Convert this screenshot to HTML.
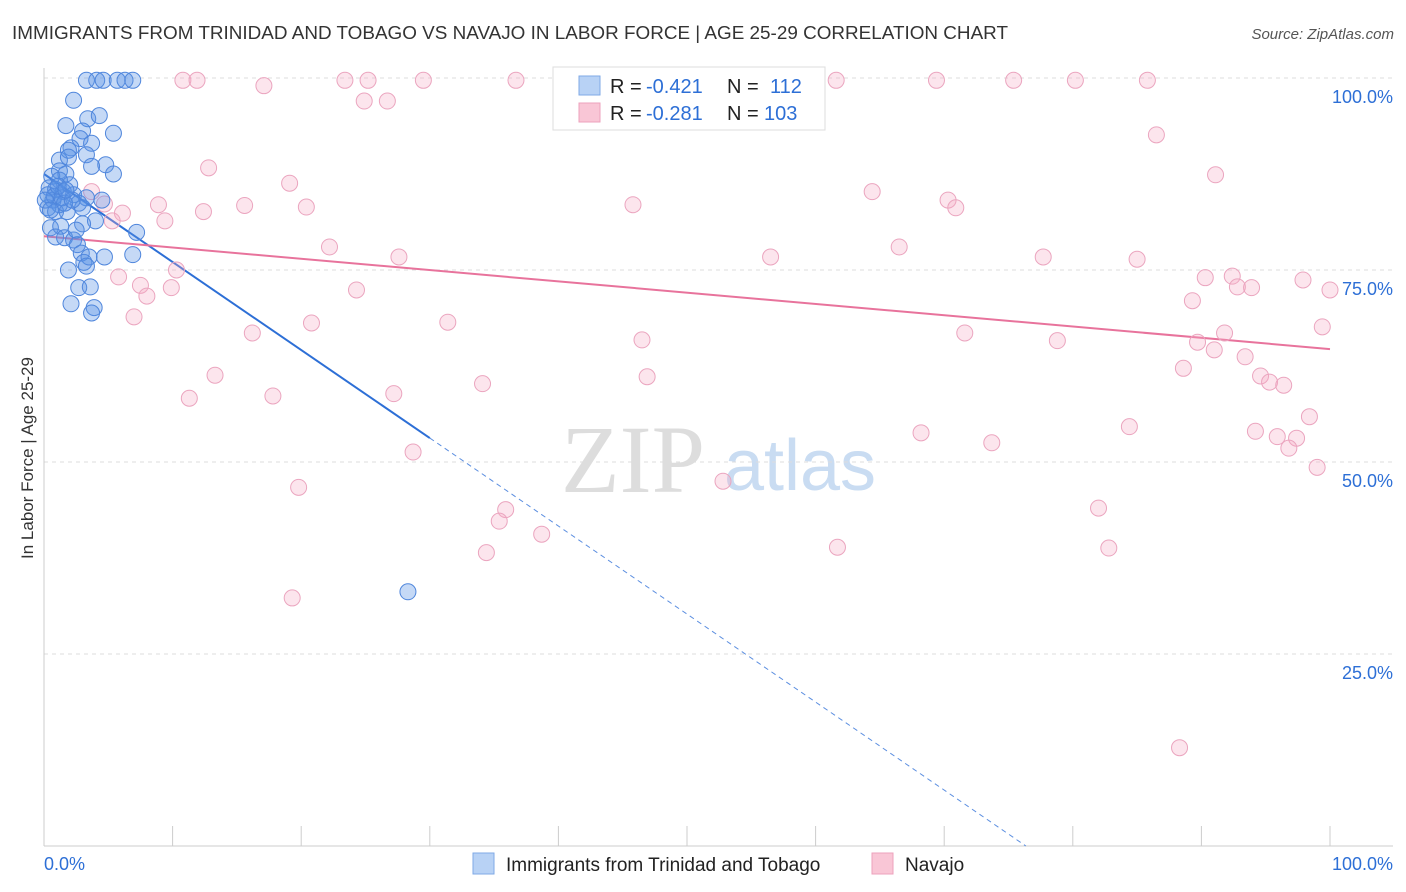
<!DOCTYPE html>
<html><head><meta charset="utf-8"><style>
body{margin:0;background:#fff;font-family:"Liberation Sans",sans-serif;}
svg{display:block}
</style></head><body>
<svg id="chart" width="1406" height="892">
<text x="12" y="39" font-size="18" fill="#333" textLength="996" lengthAdjust="spacingAndGlyphs">IMMIGRANTS FROM TRINIDAD AND TOBAGO VS NAVAJO IN LABOR FORCE | AGE 25-29 CORRELATION CHART</text>
<text x="1394" y="39" font-size="15" fill="#555" text-anchor="end" font-style="italic">Source: ZipAtlas.com</text>
<text x="33" y="458" font-size="17" fill="#333" text-anchor="middle" transform="rotate(-90 33 458)">In Labor Force | Age 25-29</text>
<g><text x="633" y="492" font-size="96" fill="#ddd" font-family="Liberation Serif,serif" text-anchor="middle">ZIP</text><text x="800" y="490" font-size="72" fill="#c9dcf2" text-anchor="middle">atlas</text></g>
<g id="grid"></g><g id="axes"></g><g id="trends"></g><g id="pts"></g>
<g>
<rect x="553" y="67" width="272" height="63" fill="#fff" stroke="#ddd"/>
<rect x="579" y="76" width="21" height="19" fill="#b8d2f5" stroke="#7fa9e6"/>
<rect x="579" y="103" width="21" height="19" fill="#f9c6d6" stroke="#eda2bc"/>
<text x="610" y="93" font-size="20" fill="#222">R =</text><text x="646" y="93" font-size="20" fill="#2d6fd6">-0.421</text>
<text x="727" y="93" font-size="20" fill="#222">N =</text><text x="770" y="93" font-size="20" fill="#2d6fd6">112</text>
<text x="610" y="120" font-size="20" fill="#222">R =</text><text x="646" y="120" font-size="20" fill="#2d6fd6">-0.281</text>
<text x="727" y="120" font-size="20" fill="#222">N =</text><text x="764" y="120" font-size="20" fill="#2d6fd6">103</text>
</g>
<g>
<rect x="473" y="853" width="21" height="21" fill="#b8d2f5" stroke="#7fa9e6"/>
<text x="506" y="871" font-size="19" fill="#222">Immigrants from Trinidad and Tobago</text>
<rect x="872" y="853" width="21" height="21" fill="#f9c6d6" stroke="#eda2bc"/>
<text x="905" y="871" font-size="19" fill="#222">Navajo</text>
</g>
</svg>
<script>
const blueX=[3.3,4.1,4.6,5.7,6.3,6.9,2.3,1.7,3.4,4.3,3.0,5.4,2.8,3.7,2.1,1.9,3.3,1.2,1.9,4.8,3.7,5.4,1.2,1.7,0.6,1.2,0.4,0.9,1.5,2.0,2.3,3.3,4.5,2.7,0.7,1.2,0.3,0.9,1.8,3.0,4.0,0.5,1.3,3.0,7.2,0.9,1.6,2.3,2.6,2.9,3.1,3.5,4.7,6.9,1.9,3.3,2.7,3.6,2.1,3.9,3.7,28.3,0.3,0.8,1.4,1.6,2.2,0.1,0.5,1.1,1.7,2.5];
const blueY=[99.7,99.7,99.7,99.7,99.7,99.7,97.1,93.8,94.7,95.1,93.1,92.8,92.1,91.5,90.9,90.6,90.0,89.3,89.7,88.7,88.5,87.5,87.9,87.5,87.2,86.7,85.7,85.5,85.2,86.1,84.8,84.4,84.1,83.7,84.1,83.5,83.1,82.6,82.6,83.1,81.4,80.5,80.7,81.0,79.9,79.3,79.2,78.9,78.3,77.2,76.0,76.7,76.7,77.0,75.0,75.5,72.7,72.8,70.6,70.1,69.4,33.1,84.8,84.6,84.4,83.7,84.1,84.1,82.8,85.9,85.4,80.2];
const pinkX=[10.8,11.9,17.1,23.4,25.2,29.5,36.7,40.4,61.6,69.4,75.4,80.2,85.8,24.9,26.7,86.5,12.8,91.1,19.1,64.4,70.3,70.9,45.8,8.9,15.6,20.4,12.4,6.1,9.4,5.3,3.7,4.7,22.2,27.6,56.5,66.5,77.7,85.0,10.3,5.8,90.3,92.4,97.9,92.8,93.9,100,7.5,8.0,9.9,24.3,89.3,7.0,20.8,31.4,16.2,71.6,99.4,46.5,78.8,89.7,91.8,91.0,93.4,88.6,94.6,95.3,96.4,13.3,46.9,34.1,11.3,17.8,27.2,98.4,68.2,73.7,84.4,94.2,95.9,97.4,96.8,28.7,99.0,52.8,19.8,82.0,35.9,35.4,38.7,61.7,82.8,34.4,19.3,88.3];
const pinkY=[99.7,99.7,99.0,99.7,99.7,99.7,99.7,99.7,99.7,99.7,99.7,99.7,99.7,97.0,97.0,92.6,88.3,87.4,86.3,85.2,84.1,83.1,83.5,83.5,83.4,83.2,82.6,82.4,81.4,81.4,85.2,83.6,78.0,76.7,76.7,78.0,76.7,76.4,75.0,74.1,74.0,74.2,73.7,72.8,72.7,72.4,73.0,71.6,72.7,72.4,71.0,68.9,68.1,68.2,66.8,66.8,67.6,65.9,65.8,65.6,66.8,64.6,63.7,62.2,61.2,60.4,60.0,61.3,61.1,60.2,58.3,58.6,58.9,55.9,53.8,52.5,54.6,54.0,53.3,53.1,51.8,51.3,49.3,47.5,46.7,44.0,43.8,42.3,40.6,38.9,38.8,38.2,32.3,12.8];
const yTicks=[25,50,75,100];
const yTickLabels=["25.0%","50.0%","75.0%","100.0%"];
const blueTrend=[87.5,-1.146];
const blueSolidEnd=30;
const pinkTrend=[79.4,-0.147];
const NS="http://www.w3.org/2000/svg";
const sx=v=>44+v*12.86, sy=v=>846-v*7.68;
function mk(t,a,p){const e=document.createElementNS(NS,t);for(const k in a)e.setAttribute(k,a[k]);p.appendChild(e);return e;}
const grid=document.getElementById('grid'),axes=document.getElementById('axes');
yTicks.forEach((t,i)=>{
 const l=mk('line',{x1:44,x2:1393,y1:sy(t),y2:sy(t),stroke:'#ddd','stroke-dasharray':'4 4'},grid);
 
 
 const tx=mk('text',{x:1393,y:sy(t)+25,'font-size':18,fill:'#2d6fd6','text-anchor':'end'},axes);
 tx.textContent=yTickLabels[i];
 
 
});
mk('line',{x1:44,x2:44,y1:68,y2:846,stroke:'#ccc'},axes);
mk('line',{x1:44,x2:1393,y1:846,y2:846,stroke:'#ccc'},axes);
for(let i=1;i<=10;i++){const t=mk('line',{x1:sx(i*10),x2:sx(i*10),y1:826,y2:846,stroke:'#ccc'},axes);}
[[0,'0.0%','start',44],[100,'100.0%','end',1393]].forEach(a=>{const t=mk('text',{x:a[3],y:870,'font-size':18,fill:'#2d6fd6','text-anchor':a[2]},axes);t.textContent=a[1];});
const pts=document.getElementById('pts');
pinkX.forEach((x,i)=>{const c=mk('circle',{cx:sx(x),cy:sy(pinkY[i]),r:8,fill:'rgba(244,170,196,0.3)',stroke:'#eba5bf','stroke-width':1},pts);
 
 });
blueX.forEach((x,i)=>{const c=mk('circle',{cx:sx(x),cy:sy(blueY[i]),r:8,fill:'rgba(90,145,230,0.35)',stroke:'#4f86dc','stroke-width':1},pts);
 
 });
const tr=document.getElementById('trends');
const f=(p,x)=>p[0]+p[1]*x;
const bEnd=-blueTrend[0]/blueTrend[1];
let l=mk('line',{x1:sx(0),y1:sy(f(blueTrend,0)),x2:sx(blueSolidEnd),y2:sy(f(blueTrend,blueSolidEnd)),stroke:'#2d6fd6','stroke-width':2},tr);


l=mk('line',{x1:sx(blueSolidEnd),y1:sy(f(blueTrend,blueSolidEnd)),x2:sx(bEnd),y2:sy(0),stroke:'#5b8ee0','stroke-width':1,'stroke-dasharray':'5 4'},tr);


l=mk('line',{x1:sx(0),y1:sy(f(pinkTrend,0)),x2:sx(100),y2:sy(f(pinkTrend,100)),stroke:'#e8739c','stroke-width':2},tr);


</script>
</body></html>
